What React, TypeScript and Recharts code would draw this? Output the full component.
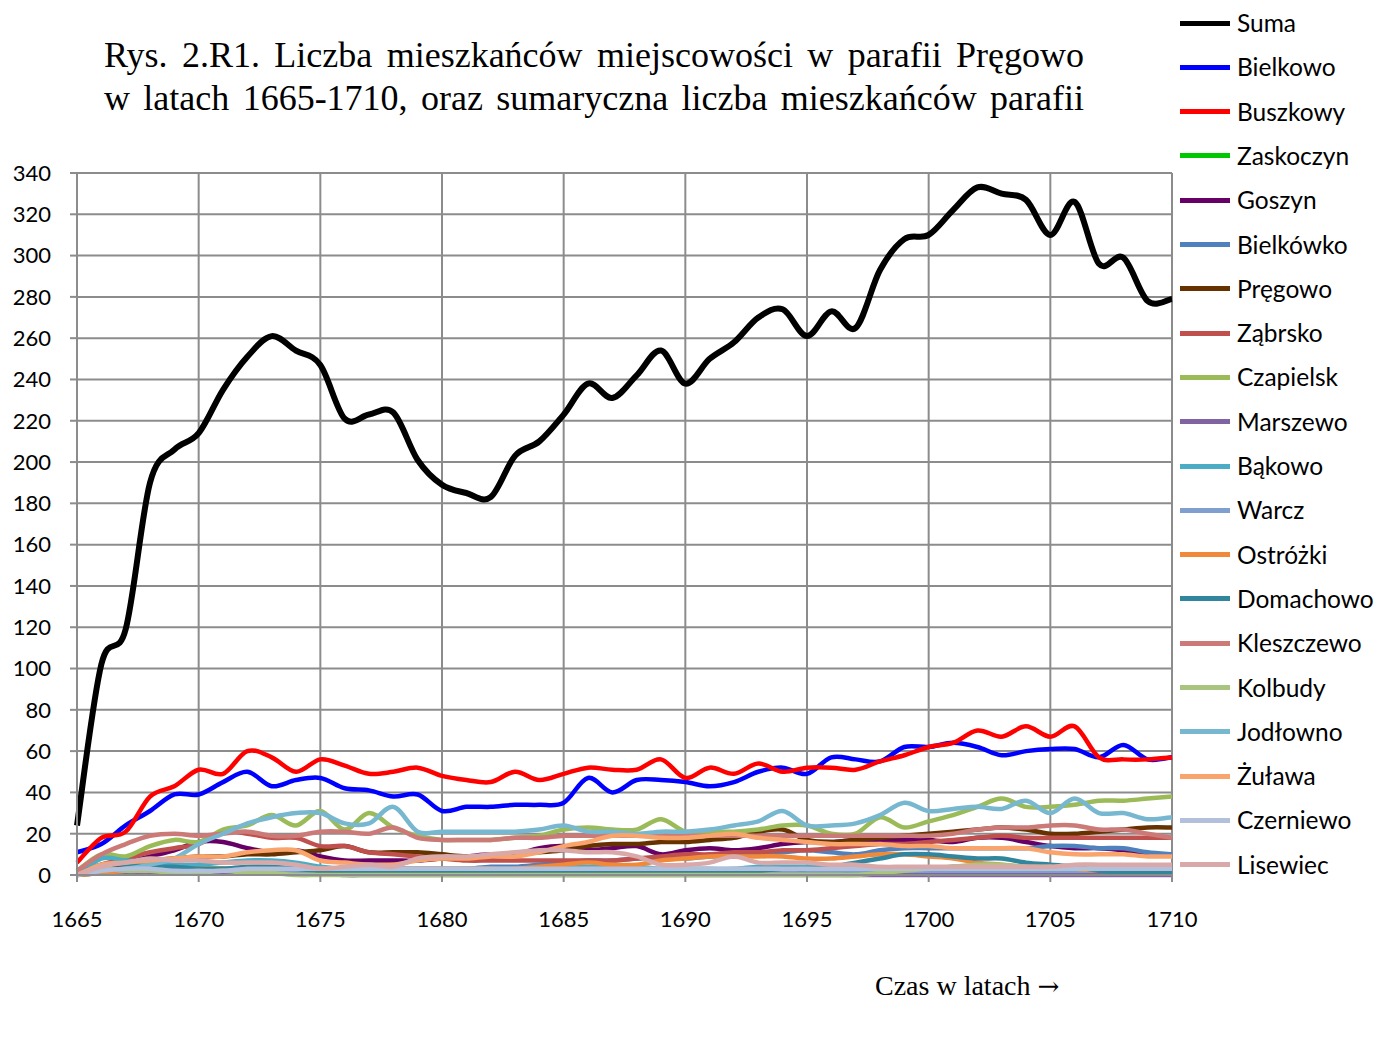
import React from 'react';
import { LineChart, Line, XAxis, YAxis, CartesianGrid } from 'recharts';

const years = [1665,1666,1667,1668,1669,1670,1671,1672,1673,1674,1675,1676,1677,1678,1679,1680,1681,1682,1683,1684,1685,1686,1687,1688,1689,1690,1691,1692,1693,1694,1695,1696,1697,1698,1699,1700,1701,1702,1703,1704,1705,1706,1707,1708,1709,1710];
const xTicks = [1665,1670,1675,1680,1685,1690,1695,1700,1705,1710];
const yTicks = [0,20,40,60,80,100,120,140,160,180,200,220,240,260,280,300,320,340];

const suma = [24,102,119,190,206,214,235,251,261,254,247,221,223,224,201,189,185,183,203,210,223,238,231,242,254,238,250,258,270,274,261,273,265,293,308,310,322,333,330,327,310,326,296,299,278,279];
const bielkowo = [11,15,24,31,39,39,45,50,43,46,47,42,41,38,39,31,33,33,34,34,35,47,40,46,46,45,43,45,50,52,49,57,56,55,62,62,64,62,58,60,61,61,57,63,56,57];
const buszkowy = [6,18,21,38,43,51,49,60,57,50,56,53,49,50,52,48,46,45,50,46,49,52,51,51,56,47,52,49,54,50,52,52,51,55,58,62,64,70,67,72,67,72,57,56,56,57];
const zaskoczyn = [0,1,1,2,2,3,3,2,2,2,2,3,4,3,2,2,2,2,2,2,2,2,2,2,2,2,2,2,2,2,2,2,2,2,2,3,4,4,3,3,2,2,2,2,2,2];
const goszyn = [0,3,6,9,12,16,16,13,11,12,9,7,7,7,7,8,9,10,10,13,14,12,13,14,10,12,13,12,13,15,16,16,17,17,17,17,16,18,18,16,14,13,13,12,10,10];
const bielkowko = [0,2,3,3,3,3,3,3,3,3,3,3,3,3,3,3,3,4,4,5,6,7,7,8,8,8,9,9,10,11,12,11,10,12,13,13,13,13,13,13,14,14,13,13,11,10];
const pregowo = [0,3,5,7,8,9,9,10,10,11,12,14,11,11,11,10,9,9,10,11,12,14,15,15,16,16,17,18,21,22,17,16,17,18,19,20,21,22,23,22,20,20,21,22,23,23];
const zabrsko = [1,5,8,11,13,15,21,20,18,18,14,14,11,10,9,8,7,7,7,7,7,7,7,8,9,10,10,11,11,12,12,13,14,15,15,16,17,18,19,18,18,18,18,18,18,18];
const czapielsk = [2,10,9,14,17,16,22,24,29,24,31,22,30,23,19,17,17,17,18,19,22,23,22,22,27,21,21,21,22,24,24,20,20,28,23,26,29,33,37,33,33,34,36,36,37,38];
const marszewo = [0,1,1,1,1,1,1,1,1,1,1,0,0,0,0,0,0,0,0,0,0,0,0,0,0,0,0,0,0,0,0,0,0,0,0,0,0,0,0,0,0,0,0,0,0,0];
const bakowo = [0,8,7,6,5,5,6,7,7,6,4,3,3,3,3,3,3,3,3,3,4,4,4,4,3,3,3,3,4,4,4,4,3,3,3,3,3,3,3,3,3,3,3,3,3,3];
const warcz = [0,1,2,2,2,2,2,2,2,2,2,2,2,2,2,2,2,2,2,2,2,2,2,2,2,2,2,2,2,2,2,2,2,2,2,2,2,2,2,2,2,2,2,2,2,2];
const ostrozki = [0,1,2,2,3,3,3,3,3,3,3,3,3,3,3,3,3,3,3,4,5,6,5,5,7,8,9,9,9,9,8,8,9,10,10,9,8,6,5,4,4,3,2,2,2,2];
const domachowo = [0,5,5,4,4,3,3,4,4,3,2,2,2,2,2,2,2,2,2,2,2,2,2,2,2,2,2,2,2,3,3,4,6,8,10,10,9,8,8,6,5,4,2,1,1,1];
const kleszczewo = [2,10,15,19,20,19,20,21,19,19,21,21,20,23,18,17,17,17,18,18,19,19,19,19,19,19,19,19,19,19,19,19,19,19,19,19,20,22,23,23,24,24,22,22,20,18];
const kolbudy = [0,3,2,2,1,1,2,1,1,0,0,0,0,0,0,0,0,0,0,0,0,0,0,0,0,0,0,0,0,0,0,0,0,1,2,3,4,5,5,4,4,3,3,3,3,3];
const jodlowno = [0,2,3,5,8,15,20,25,28,30,30,25,25,33,21,21,21,21,21,22,24,21,21,20,21,21,22,24,26,31,24,24,25,29,35,31,32,33,32,36,30,37,30,30,27,28];
const zulawa = [0,5,6,7,8,9,9,11,12,12,7,6,5,5,7,8,8,9,9,11,14,16,19,19,18,18,19,20,18,17,16,15,15,15,14,14,13,13,13,13,11,10,10,10,9,9];
const czerniewo = [0,2,3,3,2,2,2,3,3,3,3,3,3,3,3,3,3,3,3,3,3,3,3,3,3,3,3,3,3,3,3,3,3,3,3,3,3,3,3,3,3,3,3,3,3,3];
const lisewiec = [0,4,6,8,7,7,6,6,6,5,3,4,5,4,8,9,9,10,11,12,12,11,11,9,5,5,6,9,6,6,6,5,5,4,4,4,4,4,4,4,4,5,5,5,5,5];

const seriesNames = ['Suma','Bielkowo','Buszkowy','Zaskoczyn','Goszyn','Bielkówko','Pręgowo','Ząbrsko','Czapielsk','Marszewo','Bąkowo','Warcz','Ostróżki','Domachowo','Kleszczewo','Kolbudy','Jodłowno','Żuława','Czerniewo','Lisewiec'];
const seriesValues = [suma,bielkowo,buszkowy,zaskoczyn,goszyn,bielkowko,pregowo,zabrsko,czapielsk,marszewo,bakowo,warcz,ostrozki,domachowo,kleszczewo,kolbudy,jodlowno,zulawa,czerniewo,lisewiec];
const seriesColors = ['#000000','#0000FF','#FF0000','#00C800','#660066','#4F81BD','#663300','#C0504D','#9BBB59','#8064A2','#4BACC6','#7F9FCF','#F08A3A','#31859C','#CC7A78','#A9C47F','#77B7D0','#F9A46C','#B3C0DC','#D9A9A9'];

const data = years.map((y, i) => {
  const row: any = { year: y };
  seriesNames.forEach((n, k) => { row[n] = seriesValues[k][i]; });
  return row;
});

// Catmull-Rom like smoothing (similar to spreadsheet smoothed lines)
function smoothCurve(context: any) {
  let pts: number[][] = [];
  return {
    areaStart() {},
    areaEnd() {},
    lineStart() { pts = []; },
    point(x: number, y: number) { pts.push([+x, +y]); },
    lineEnd() {
      const n = pts.length;
      if (!n) return;
      context.moveTo(pts[0][0], pts[0][1]);
      for (let i = 0; i < n - 1; i++) {
        const p0 = pts[i - 1] || pts[i];
        const p1 = pts[i];
        const p2 = pts[i + 1];
        const p3 = pts[i + 2] || pts[i + 1];
        const c1x = p1[0] + (p2[0] - p0[0]) / 6;
        const c1y = p1[1] + (p2[1] - p0[1]) / 6;
        const c2x = p2[0] - (p3[0] - p1[0]) / 6;
        const c2y = p2[1] - (p3[1] - p1[1]) / 6;
        context.bezierCurveTo(c1x, c1y, c2x, c2y, p2[0], p2[1]);
      }
    },
  };
}

const GRID = '#8c8c8c';
const SANS = 'Lato, "Open Sans", sans-serif';
const SERIF = '"Liberation Serif", "Times New Roman", serif';

export default function App() {
  return (
    <div style={{ position: 'absolute', left: 0, top: 0, width: 1377, height: 1043, background: '#fff' }}>
      <div style={{ position: 'absolute', left: 104, top: 34, width: 980, fontFamily: SERIF, fontSize: 36, lineHeight: '43px', color: '#000' }}>
        <div style={{ textAlign: 'justify', textAlignLast: 'justify' as any, whiteSpace: 'nowrap' as any }}>Rys. 2.R1. Liczba mieszkańców miejscowości w parafii Pręgowo</div>
        <div style={{ textAlign: 'justify', textAlignLast: 'justify' as any }}>w latach 1665-1710, oraz sumaryczna liczba mieszkańców parafii</div>
      </div>
      <LineChart width={1377} height={1043} data={data} margin={{ top: 173, right: 205, bottom: 128, left: 17 }} style={{ position: 'absolute', left: 0, top: 0 }}>
        <CartesianGrid stroke={GRID} strokeWidth={2} />
        <XAxis dataKey="year" type="number" domain={[1665, 1710]} ticks={xTicks} interval={0}
          axisLine={{ stroke: GRID, strokeWidth: 2 }} tickLine={{ stroke: GRID, strokeWidth: 2 }} tickSize={7} tickMargin={29}
          height={40} tick={{ fontSize: 22, fill: '#000', fontFamily: SANS }} />
        <YAxis type="number" domain={[0, 340]} ticks={yTicks} interval={0} width={60}
          axisLine={{ stroke: GRID, strokeWidth: 2 }} tickLine={{ stroke: GRID, strokeWidth: 2 }} tickSize={7} tickMargin={19}
          tick={{ fontSize: 22, fill: '#000', fontFamily: SANS }} />
        {seriesNames.map((n, k) => (
          <Line key={n} dataKey={n} type={smoothCurve as any} stroke={seriesColors[k]} strokeWidth={k === 0 ? 6 : 4.5}
            dot={false} activeDot={false} isAnimationActive={false} />
        ))}
      </LineChart>
      <div style={{ position: 'absolute', left: 0, top: 0 }}>
        {seriesNames.map((n, k) => (
          <div key={n} style={{ position: 'absolute', left: 1180, top: 23 + k * 44.3 - 15, height: 30, width: 200, whiteSpace: 'nowrap' }}>
            <div style={{ position: 'absolute', left: 0, top: 12.5, width: 50, height: 5, background: seriesColors[k] }} />
            <div style={{ position: 'absolute', left: 57, top: 0, lineHeight: '30px', fontFamily: SANS, fontSize: 24.5, color: '#000' }}>{n}</div>
          </div>
        ))}
      </div>
      <div style={{ position: 'absolute', left: 875, top: 970, fontFamily: SERIF, fontSize: 28, color: '#000', whiteSpace: 'nowrap' }}>Czas w latach <span style={{ fontFamily: '"DejaVu Serif", serif', fontSize: 26 }}>→</span></div>
    </div>
  );
}
